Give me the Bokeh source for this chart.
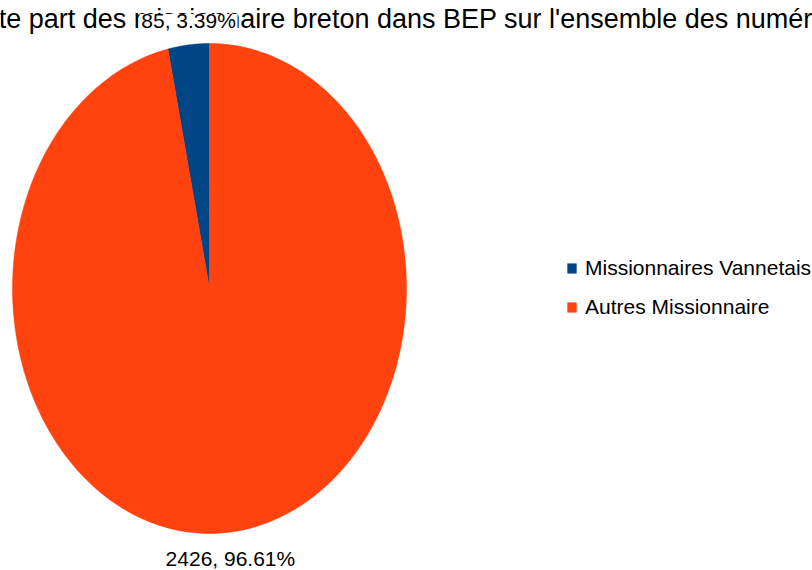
import numpy as np
from bokeh.plotting import figure
from bokeh.models import ColumnDataSource, Range1d, Legend, LegendItem
from bokeh.core.properties import value
from bokeh.embed import file_html
from bokeh.resources import INLINE

# ---- data ----
title_text = "Quote part des missionnaire breton dans BEP sur l'ensemble des numéros"
categories = ["Missionnaires Vannetais", "Autres Missionnaire"]
counts = [85, 2426]
colors = ["#004586", "#ff420e"]

# ---- layout (pixels) ----
W, H = 812, 570
cx, cy = 209, 288      # pie centre (px from left / top)
rx, ry = 197, 245      # pie radii in px (elliptical pie)
FONT = "Liberation Sans"

p = figure(width=W, height=H, output_backend="svg", toolbar_location=None,
           x_range=Range1d(-cx / rx, (W - cx) / rx),
           y_range=Range1d(-(H - cy) / ry, cy / ry),
           min_border=0, background_fill_color="white", border_fill_color="white")
p.axis.visible = False
p.grid.visible = False
p.outline_line_color = None

def px_to_data(x, y):
    return (x - cx) / rx, (cy - y) / ry

# title (wider than the chart, clipped like the original)
tx, ty = px_to_data(394, 18)
p.text(x=[tx], y=[ty], text=[title_text], text_align="center", text_baseline="alphabetic",
       text_font=value(FONT), text_font_size="27px", text_color="black")

# pie slices: start at 12 o'clock, counter-clockwise
total = float(sum(counts))
start = np.pi / 2
xs, ys, mids = [], [], []
for c in counts:
    frac = c / total
    t = np.linspace(start, start + 2 * np.pi * frac, 200)
    xs.append(np.concatenate([[0.0], np.cos(t)]).tolist())
    ys.append(np.concatenate([[0.0], np.sin(t)]).tolist())
    mids.append(start + np.pi * frac)
    start += 2 * np.pi * frac

src = ColumnDataSource(dict(xs=xs, ys=ys, color=colors, name=categories))
r = p.patches(xs="xs", ys="ys", fill_color="color", line_color="color", line_width=0.5, source=src)

# data labels (outside the pie, at each slice's mid-angle)
labels = [f"{c}, {100 * c / total:.2f}%" for c in counts]
lx = [float(np.cos(m)) for m in mids]
ly = [float(np.sin(m)) for m in mids]
dy = [-24 if y > 0 else 26 for y in ly]
by = [y - (d + 1) / ry for y, d in zip(ly, dy)]   # white backing box centre
lsrc = ColumnDataSource(dict(x=lx, y=ly, by=by, text=labels, dy=dy))
p.rect(x="x", y="by", width=98, height=16, width_units="screen", height_units="screen",
       fill_color="white", line_color=None, source=lsrc)
p.text(x="x", y="y", text="text", y_offset="dy", source=lsrc, text_align="center",
       text_baseline="middle", text_font=value(FONT), text_font_size="21px",
       text_color="black")

# legend
items = [LegendItem(label=categories[i], renderers=[r], index=i) for i in range(len(categories))]
legend = Legend(items=items, location=(566, 251), orientation="vertical",
                glyph_width=11, glyph_height=12, label_height=24, spacing=15,
                label_standoff=8, padding=0, margin=0,
                border_line_color=None, background_fill_alpha=0,
                label_text_font=FONT, label_text_font_size="21px", label_text_color="black")
p.add_layout(legend, "center")

open("out.html", "w").write(file_html(p, INLINE))
